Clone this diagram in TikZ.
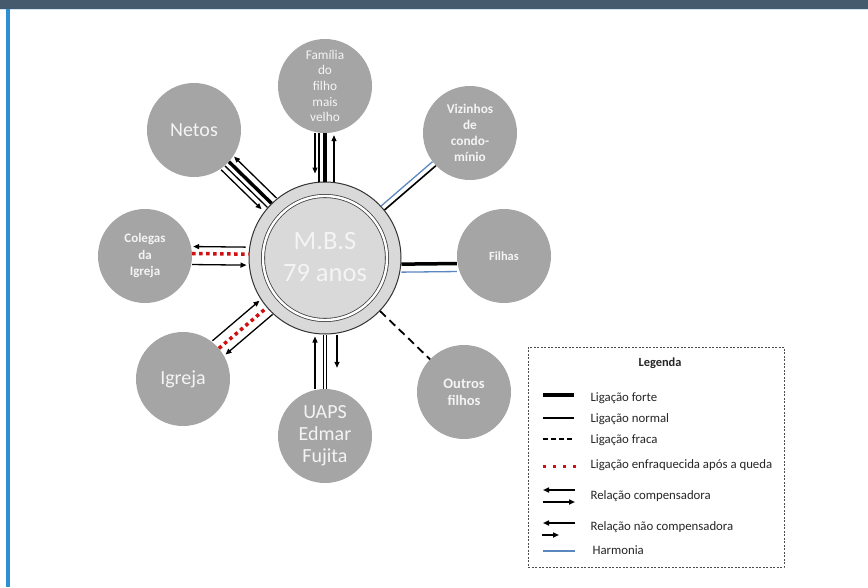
\documentclass[tikz,border=0pt]{standalone}
\usepackage{fontspec}
\setmainfont{Carlito}
\usetikzlibrary{arrows.meta}
\definecolor{topbar}{HTML}{465A6E}
\definecolor{sideblue}{HTML}{2E8FD2}
\definecolor{paleblue}{HTML}{CFE6F5}
\definecolor{satgray}{HTML}{A5A5A5}
\definecolor{ctrgray}{HTML}{D9D9D9}
\definecolor{harm}{HTML}{5B87C0}
\definecolor{weakred}{HTML}{D01010}
\definecolor{nodetext}{HTML}{F4F4F4}
\begin{document}
\begin{tikzpicture}[x=1pt,y=-1pt,
  sat/.style={circle,fill=satgray,minimum size=94pt,inner sep=0pt,align=center,text=nodetext},
  txtsmall/.style={font=\fontsize{13.3}{15.7}\selectfont},
  txtbold/.style={font=\fontsize{13.3}{16}\selectfont\bfseries},
  txtbig/.style={font=\fontsize{20}{21.8}\selectfont},
  normalln/.style={line width=1.3pt,draw=black},
  strongln/.style={line width=3.5pt,draw=black},
  weakln/.style={line width=1.8pt,draw=black,dash pattern=on 8pt off 5pt},
  redln/.style={line width=3.5pt,draw=weakred,dash pattern=on 3.5pt off 3.5pt},
  harmln/.style={line width=1.3pt,draw=harm},
  arr/.style={line width=1.3pt,draw=black,-{Triangle[length=6pt,width=5pt]}},
  sh/.style={transform canvas={shift={#1}}},
  legtext/.style={anchor=west,font=\fontsize{12.8}{14}\selectfont,text=black!85}
]
\useasboundingbox (0,0) rectangle (868,587);
\fill[white] (0,0) rectangle (868,587);
\fill[topbar] (0,0) rectangle (868,8.5);
\fill[paleblue] (0,8.5) rectangle (868,9.6);
\fill[sideblue] (6,9) rectangle (10,587);

% centre
\node[circle,draw=black!80,line width=1pt,fill=ctrgray,minimum size=152pt,inner sep=0pt] (mbs) at (325,258) {};
\draw[draw=black!75,line width=0.8pt,double=white,double distance=2.4pt] (mbs.center) circle[radius=62];
\node[text=nodetext,font=\fontsize{26.5}{32}\selectfont,align=center] (mbst) at (325,257) {M.B.S\\79 anos};

% satellites
\node[sat,txtsmall] (fam) at (325,86) {Família\\do\\filho\\mais\\velho};
\node[sat,txtbig] (netos) at (194,130) {Netos};
\node[sat,txtbold] (viz) at (470,133) {Vizinhos\\de\\condo-\\mínio};
\node[sat,font=\fontsize{12.5}{15}\selectfont\bfseries] (filhas) at (504,256) {Filhas};
\node[sat,font=\fontsize{13}{16.5}\selectfont\bfseries] (colegas) at (145,256) {Colegas\\da\\Igreja};
\node[sat,txtbig] (igreja) at (183,379) {Igreja};
\node[sat,txtbig] (uaps) at (325,436) {UAPS\\Edmar\\Fujita};
\node[sat,font=\fontsize{14.5}{17}\selectfont\bfseries] (outros) at (464,392) {Outros\\filhos};

% Familia
\draw[arr,sh={(-10,0)},shorten >=8pt] (fam) -- (mbs);
\draw[normalln,sh={(-6,0)}] (fam) -- (mbs);
\draw[strongln,sh={(0,0)}] (fam) -- (mbs);
\draw[arr,sh={(9,0)},shorten >=2pt] (mbs) -- (fam);

% Netos
\draw[arr,sh={(6.3,-6.4)}] (mbs) -- (netos);
\draw[strongln,sh={(1.2,-1.2)}] (netos) -- (mbs);
\draw[normalln,sh={(-2.8,2.9)}] (netos) -- (mbs);
\draw[arr,sh={(-6.6,6.8)},shorten >=3pt] (netos) -- (mbs);

% Vizinhos
\draw[harmln,sh={(-1.8,-2.1)}] (viz) -- (mbs);
\draw[normalln,line width=1.6pt,sh={(1.6,1.9)}] (viz) -- (mbs);

% Filhas
\draw[strongln,sh={(0,7)}] (mbs) -- (filhas);
\draw[harmln,sh={(0,15)}] (mbs) -- (filhas);

% Colegas
\draw[arr,sh={(0,-10)},shorten >=1pt,shorten <=3pt] (mbs) -- (colegas);
\draw[redln,sh={(0,-3)}] (colegas) -- (mbs);
\draw[arr,sh={(0,8)},shorten >=2pt] (colegas) -- (mbs);

% Igreja
\draw[arr,sh={(-6.5,-7.6)},shorten >=1pt] (igreja) -- (mbs);
\draw[redln] (igreja) -- (mbs);
\draw[arr,sh={(5.8,6.8)},shorten >=1pt] (mbs) -- (igreja);

% UAPS
\draw[arr,sh={(-10,0)},shorten >=2pt] (uaps) -- (mbs);
\draw[normalln,line width=1pt,sh={(-2,0)}] (uaps) -- (mbs);
\draw[normalln,line width=1pt,sh={(1.5,0)}] (uaps) -- (mbs);
\draw[arr,sh={(12,0)},shorten >=21pt] (mbs) -- (uaps);

% Outros filhos
\draw[weakln] (mbs) -- (outros);

% legend
\node[draw=black!70,dash pattern=on 2pt off 1.5pt,line width=0.9pt,minimum width=256pt,minimum height=220pt,inner sep=0pt] (leg) at (656,457) {};
\node[font=\fontsize{12.4}{14}\selectfont\bfseries,text=black!85] (legt) at (660,363) {Legenda};

\coordinate (a1) at (543,395); \coordinate (b1) at (574,395);
\draw[strongln] (a1) -- (b1);
\node[legtext] (t1) at (587,398) {Ligação forte};

\coordinate (a2) at (543,418); \coordinate (b2) at (574,418);
\draw[normalln] (a2) -- (b2);
\node[legtext] (t2) at (587,419) {Ligação normal};

\coordinate (a3) at (543,439); \coordinate (b3) at (574,439);
\draw[normalln,line width=1.3pt,dash pattern=on 5pt off 3pt] (a3) -- (b3);
\node[legtext] (t3) at (587,440) {Ligação fraca};

\coordinate (a4) at (543,466); \coordinate (b4) at (576,466);
\draw[redln,line width=3pt,dash pattern=on 3pt off 7pt] (a4) -- (b4);
\node[legtext] (t4) at (587,465) {Ligação enfraquecida após a queda};

\coordinate (a5) at (543,490); \coordinate (b5) at (575,490);
\coordinate (a6) at (543,502); \coordinate (b6) at (575,502);
\draw[arr,line width=1.6pt] (b5) -- (a5);
\draw[arr,line width=1.6pt] (a6) -- (b6);
\node[legtext] (t5) at (587,496) {Relação compensadora};

\coordinate (a7) at (543,523); \coordinate (b7) at (575,523);
\coordinate (a8) at (542,535); \coordinate (b8) at (559,535);
\draw[arr,line width=1.6pt] (b7) -- (a7);
\draw[arr,line width=1.6pt] (a8) -- (b8);
\node[legtext] (t6) at (587,527) {Relação não compensadora};

\coordinate (a9) at (543,551); \coordinate (b9) at (575,551);
\draw[harmln] (a9) -- (b9);
\node[legtext] (t7) at (589,550) {Harmonia};
\end{tikzpicture}
\end{document}
